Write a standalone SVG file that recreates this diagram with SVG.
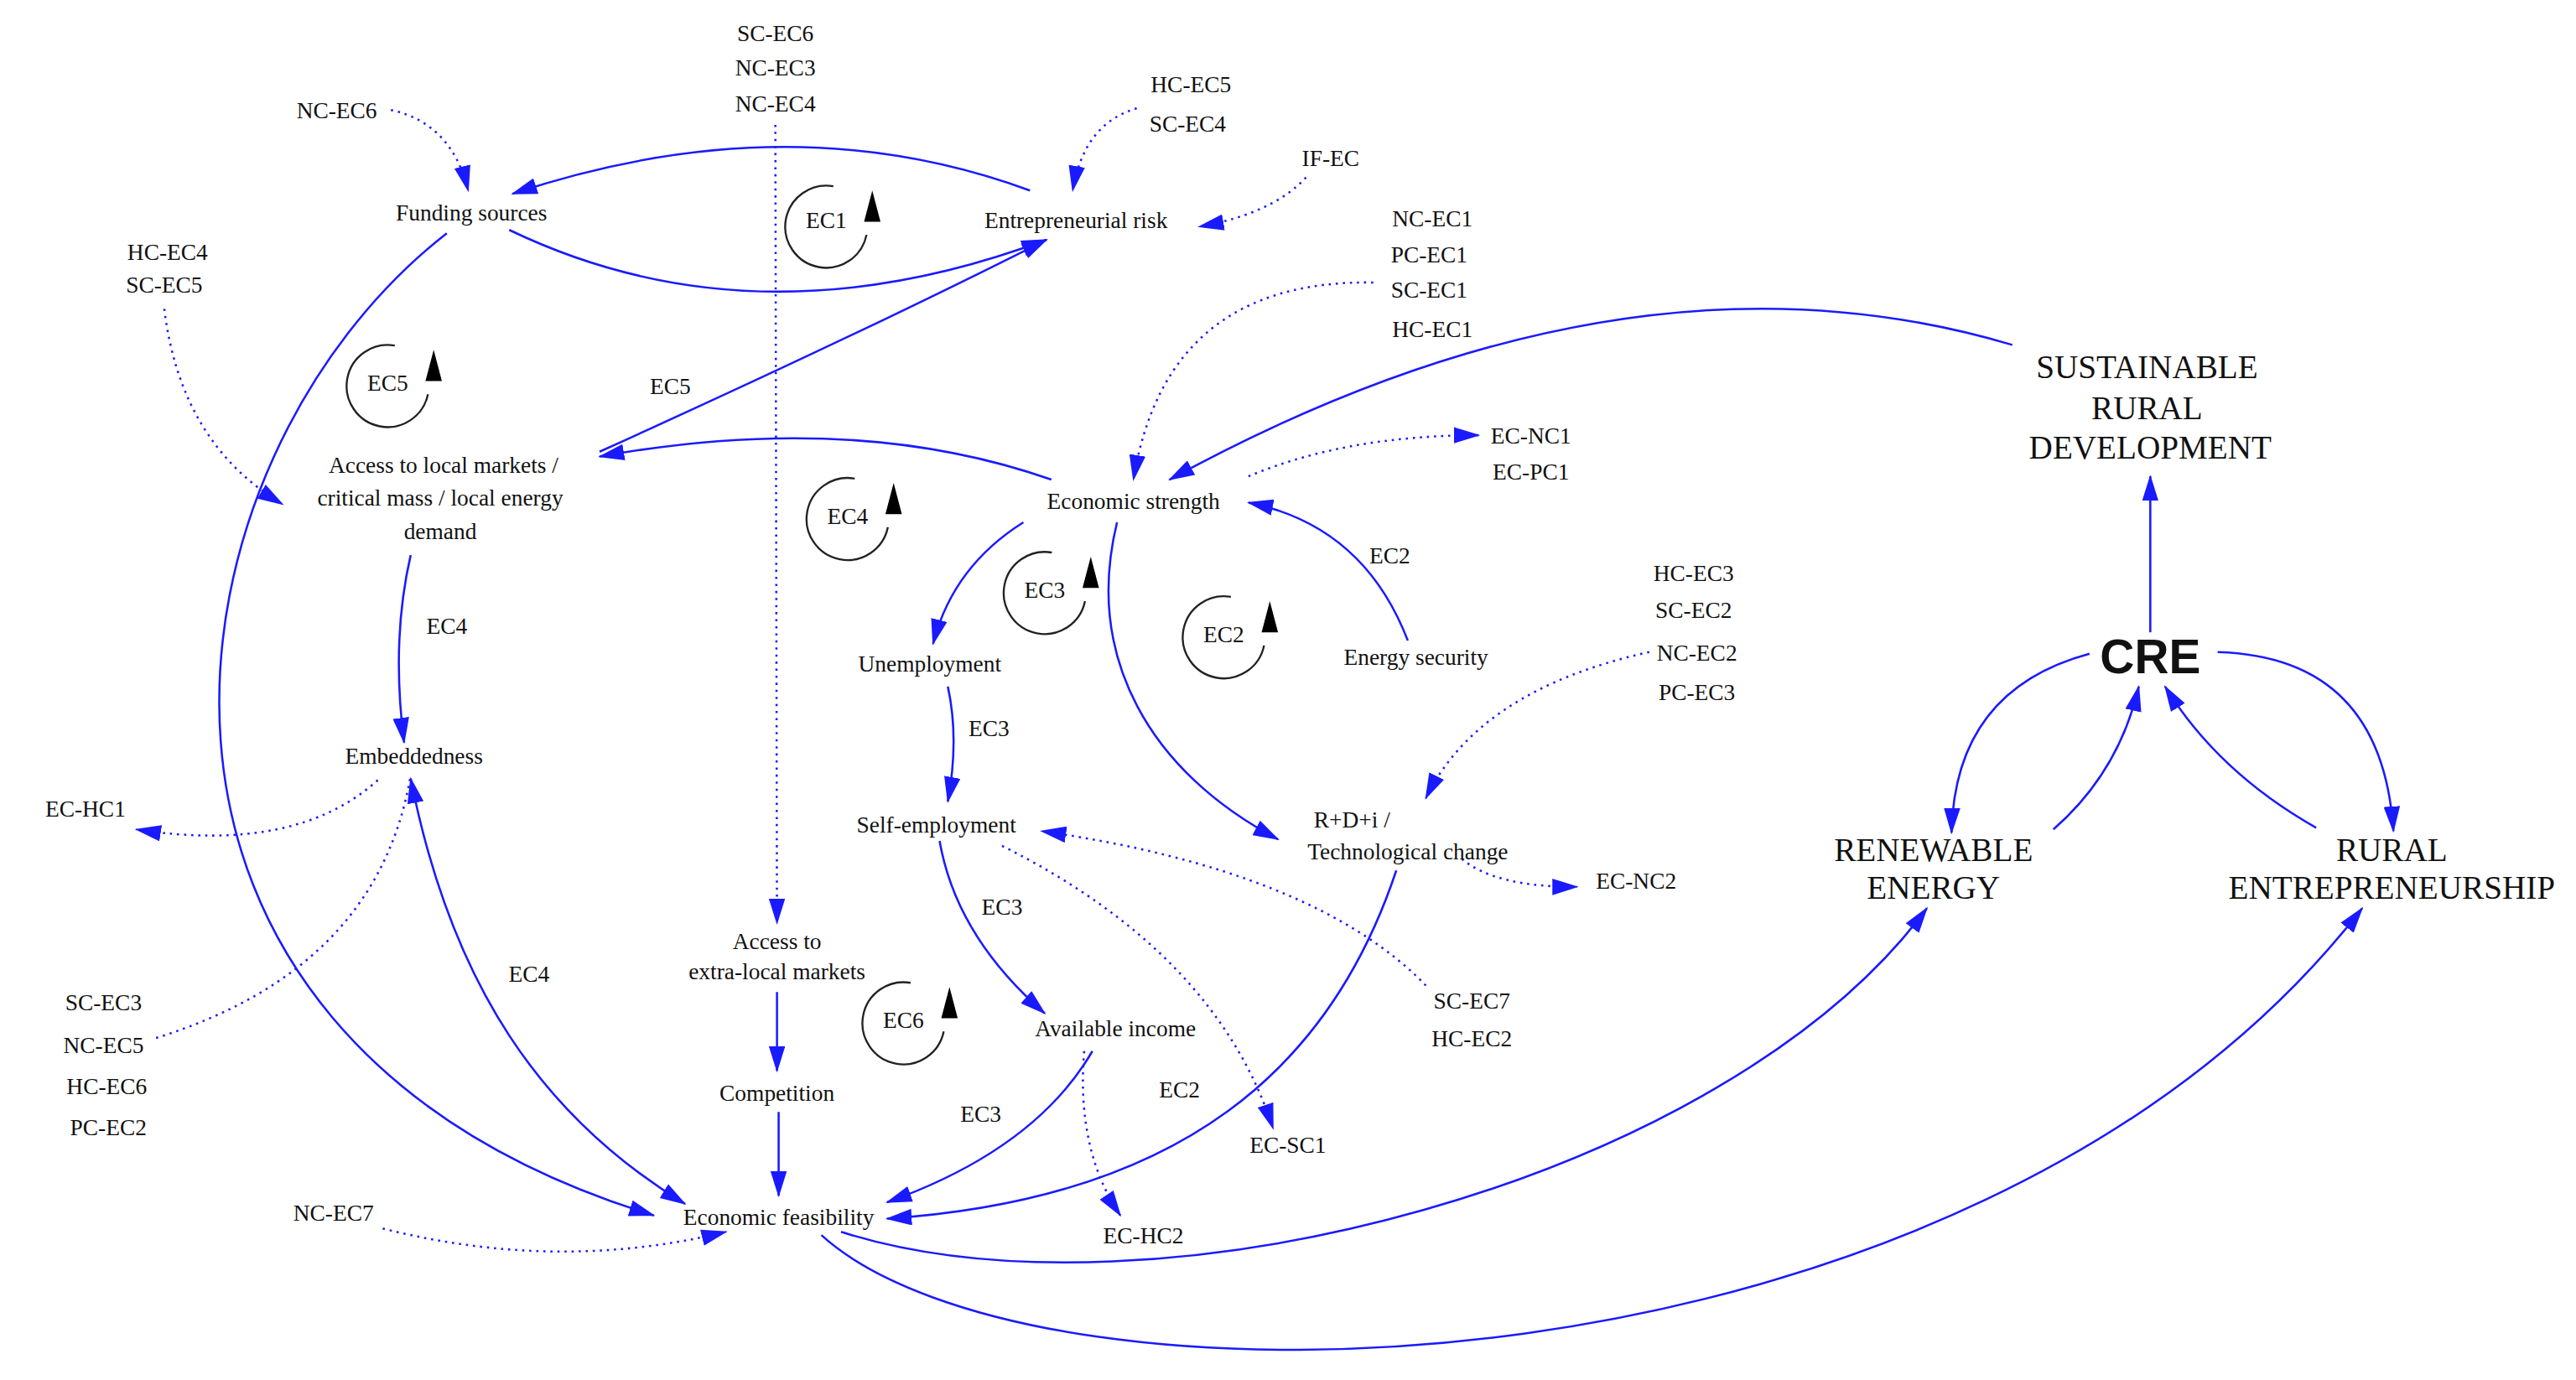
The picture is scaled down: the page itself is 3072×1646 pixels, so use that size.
<svg xmlns="http://www.w3.org/2000/svg" width="3072" height="1646" viewBox="0 0 3072 1646">
<style>
text{font-family:"Liberation Serif","Times New Roman",serif;font-size:14px;fill:#111;text-anchor:middle}
.big{font-size:20px}
.cre{font-family:"Liberation Sans",Arial,sans-serif;font-weight:bold;font-size:29px}
.c{fill:none;stroke:#1a1aff;stroke-width:1.3}
.d{fill:none;stroke:#1a1aff;stroke-width:1.3;stroke-dasharray:1.3 3}
.a{marker-end:url(#ah)}
.s{marker-start:url(#as)}
.loop{fill:none;stroke:#222;stroke-width:1.2}
</style>
<defs>
<marker id="ah" markerUnits="userSpaceOnUse" markerWidth="16" markerHeight="10" refX="15" refY="5" orient="auto"><path d="M0,0 L16,5 L0,10 z" fill="#1a1aff"/></marker>
<marker id="as" markerUnits="userSpaceOnUse" markerWidth="16" markerHeight="10" refX="15" refY="5" orient="auto-start-reverse"><path d="M0,0 L16,5 L0,10 z" fill="#1a1aff"/></marker>
<g id="loopShape"><path class="loop" d="M4.3,-24.6 A25,25 0 1 0 24.5,5"/><path d="M28,-22 L23,-3 L33,-3 z" fill="#000"/></g>
</defs>
<rect width="3072" height="1646" fill="#fff"/>
<g transform="scale(1.959)">
<g id="connectors">
<path class="c a" d="M627,116 Q480,62 312,118"/>
<path class="c a" d="M310,140 Q460,212 637,146"/>
<path class="c a" d="M365,275 Q520,205 637,146"/>
<path class="c a" d="M640,292 Q520,250 365,278"/>
<path class="c a" d="M272,142 C95,280 40,630 398,740"/>
<path class="c a" d="M250,338 Q238,390 246,452"/>
<path class="c a s" d="M250,474 C275,600 330,680 417,733"/>
<path class="d a" d="M238,67 Q275,75 285,116"/>
<path class="d a" d="M692,66 Q660,75 653,116"/>
<path class="d a" d="M795,108 Q775,130 730,138"/>
<path class="d a" d="M836,172 Q710,170 690,292"/>
<path class="d a" d="M760,290 Q820,265 900,265"/>
<path class="c a" d="M1225,210 Q990,140 712,292"/>
<path class="c a" d="M857,390 Q830,320 760,306"/>
<path class="c a" d="M623,318 Q580,345 568,392"/>
<path class="c a" d="M680,318 C660,400 700,470 778,511"/>
<path class="d a" d="M1004,397 Q900,420 868,486"/>
<path class="d a" d="M890,523 Q910,540 960,540"/>
<path class="c a" d="M850,530 C810,650 720,730 540,742"/>
<path class="c a" d="M577,418 Q584,450 577,488"/>
<path class="c a" d="M572,512 Q582,570 636,617"/>
<path class="d a" d="M868,600 Q800,530 634,506"/>
<path class="d a" d="M610,515 Q740,580 775,687"/>
<path class="c a" d="M665,640 Q630,700 540,732"/>
<path class="d a" d="M660,640 Q655,700 682,740"/>
<path class="d a" d="M472,76 L473,562"/>
<path class="c a" d="M473,604 L473,652"/>
<path class="c a" d="M474,677 L474,728"/>
<path class="d a" d="M233,748 Q340,775 442,750"/>
<path class="d a" d="M230,475 Q180,520 83,505"/>
<path class="d" d="M95,632 Q230,590 250,472"/>
<path class="d a" d="M100,188 Q110,270 172,307"/>
<path class="c a" d="M512,750 C700,810 1050,720 1173,553"/>
<path class="c a" d="M500,752 C630,870 1200,860 1438,553"/>
<path class="c a" d="M1309,385 L1309,290"/>
<path class="c a" d="M1272,398 Q1190,420 1188,507"/>
<path class="c a" d="M1250,505 Q1290,470 1302,418"/>
<path class="c a" d="M1410,504 Q1350,470 1318,418"/>
<path class="c a" d="M1350,397 Q1450,400 1457,506"/>
</g>
<g id="loops">
<use href="#loopShape" x="503" y="138"/><text x="503" y="139">EC1</text>
<use href="#loopShape" x="236" y="235"/><text x="236" y="238">EC5</text>
<use href="#loopShape" x="516" y="316"/><text x="516" y="319">EC4</text>
<use href="#loopShape" x="636" y="361"/><text x="636" y="364">EC3</text>
<use href="#loopShape" x="745" y="388"/><text x="745" y="391">EC2</text>
<use href="#loopShape" x="550" y="623"/><text x="550" y="626">EC6</text>
</g>
<g id="link-labels">
<text x="408" y="240">EC5</text>
<text x="272" y="386">EC4</text>
<text x="846" y="343">EC2</text>
<text x="602" y="448">EC3</text>
<text x="610" y="557">EC3</text>
<text x="322" y="598">EC4</text>
<text x="718" y="668">EC2</text>
<text x="597" y="683">EC3</text>
</g>
<g id="n-ext-top"><text x="472" y="25">SC-EC6</text><text x="472" y="46">NC-EC3</text><text x="472" y="68">NC-EC4</text></g>
<g id="n-ncec6"><text x="205" y="72">NC-EC6</text></g>
<g id="n-hcec5"><text x="725" y="56">HC-EC5</text><text x="723" y="80">SC-EC4</text></g>
<g id="n-ifec"><text x="810" y="101">IF-EC</text></g>
<g id="n-funding"><text x="287" y="134">Funding sources</text></g>
<g id="n-risk"><text x="655" y="139">Entrepreneurial risk</text></g>
<g id="n-ncec1"><text x="872" y="138">NC-EC1</text><text x="870" y="160">PC-EC1</text><text x="870" y="181">SC-EC1</text><text x="872" y="205">HC-EC1</text></g>
<g id="n-hcec4"><text x="102" y="158">HC-EC4</text><text x="100" y="178">SC-EC5</text></g>
<g id="n-srd"><text class="big" x="1307" y="230">SUSTAINABLE</text><text class="big" x="1307" y="255">RURAL</text><text class="big" x="1309" y="279">DEVELOPMENT</text></g>
<g id="n-access"><text x="270" y="288">Access to local markets /</text><text x="268" y="308">critical mass / local energy</text><text x="268" y="328">demand</text></g>
<g id="n-ecnc1"><text x="932" y="270">EC-NC1</text><text x="932" y="292">EC-PC1</text></g>
<g id="n-strength"><text x="690" y="310">Economic strength</text></g>
<g id="n-hcec3"><text x="1031" y="354">HC-EC3</text><text x="1031" y="376">SC-EC2</text><text x="1033" y="402">NC-EC2</text><text x="1033" y="426">PC-EC3</text></g>
<g id="n-energy"><text x="862" y="405">Energy security</text></g>
<g id="n-cre"><text class="cre" x="1309" y="410">CRE</text></g>
<g id="n-unemp"><text x="566" y="409">Unemployment</text></g>
<g id="n-embed"><text x="252" y="465">Embeddedness</text></g>
<g id="n-echc1"><text x="52" y="497">EC-HC1</text></g>
<g id="n-self"><text x="570" y="507">Self-employment</text></g>
<g id="n-rdi"><text x="823" y="504">R+D+i /</text><text x="857" y="523">Technological change</text></g>
<g id="n-re"><text class="big" x="1177" y="524">RENEWABLE</text><text class="big" x="1177" y="547">ENERGY</text></g>
<g id="n-rural"><text class="big" x="1456" y="524">RURAL</text><text class="big" x="1456" y="547">ENTREPRENEURSHIP</text></g>
<g id="n-ecnc2"><text x="996" y="541">EC-NC2</text></g>
<g id="n-extra"><text x="473" y="578">Access to</text><text x="473" y="596">extra-local markets</text></g>
<g id="n-scec3"><text x="63" y="615">SC-EC3</text><text x="63" y="641">NC-EC5</text><text x="65" y="666">HC-EC6</text><text x="66" y="691">PC-EC2</text></g>
<g id="n-income"><text x="679" y="631">Available income</text></g>
<g id="n-scec7"><text x="896" y="614">SC-EC7</text><text x="896" y="637">HC-EC2</text></g>
<g id="n-comp"><text x="473" y="670">Competition</text></g>
<g id="n-ecsc1"><text x="784" y="702">EC-SC1</text></g>
<g id="n-ncec7"><text x="203" y="743">NC-EC7</text></g>
<g id="n-feas"><text x="474" y="746">Economic feasibility</text></g>
<g id="n-echc2"><text x="696" y="757">EC-HC2</text></g>
</g>
</svg>
